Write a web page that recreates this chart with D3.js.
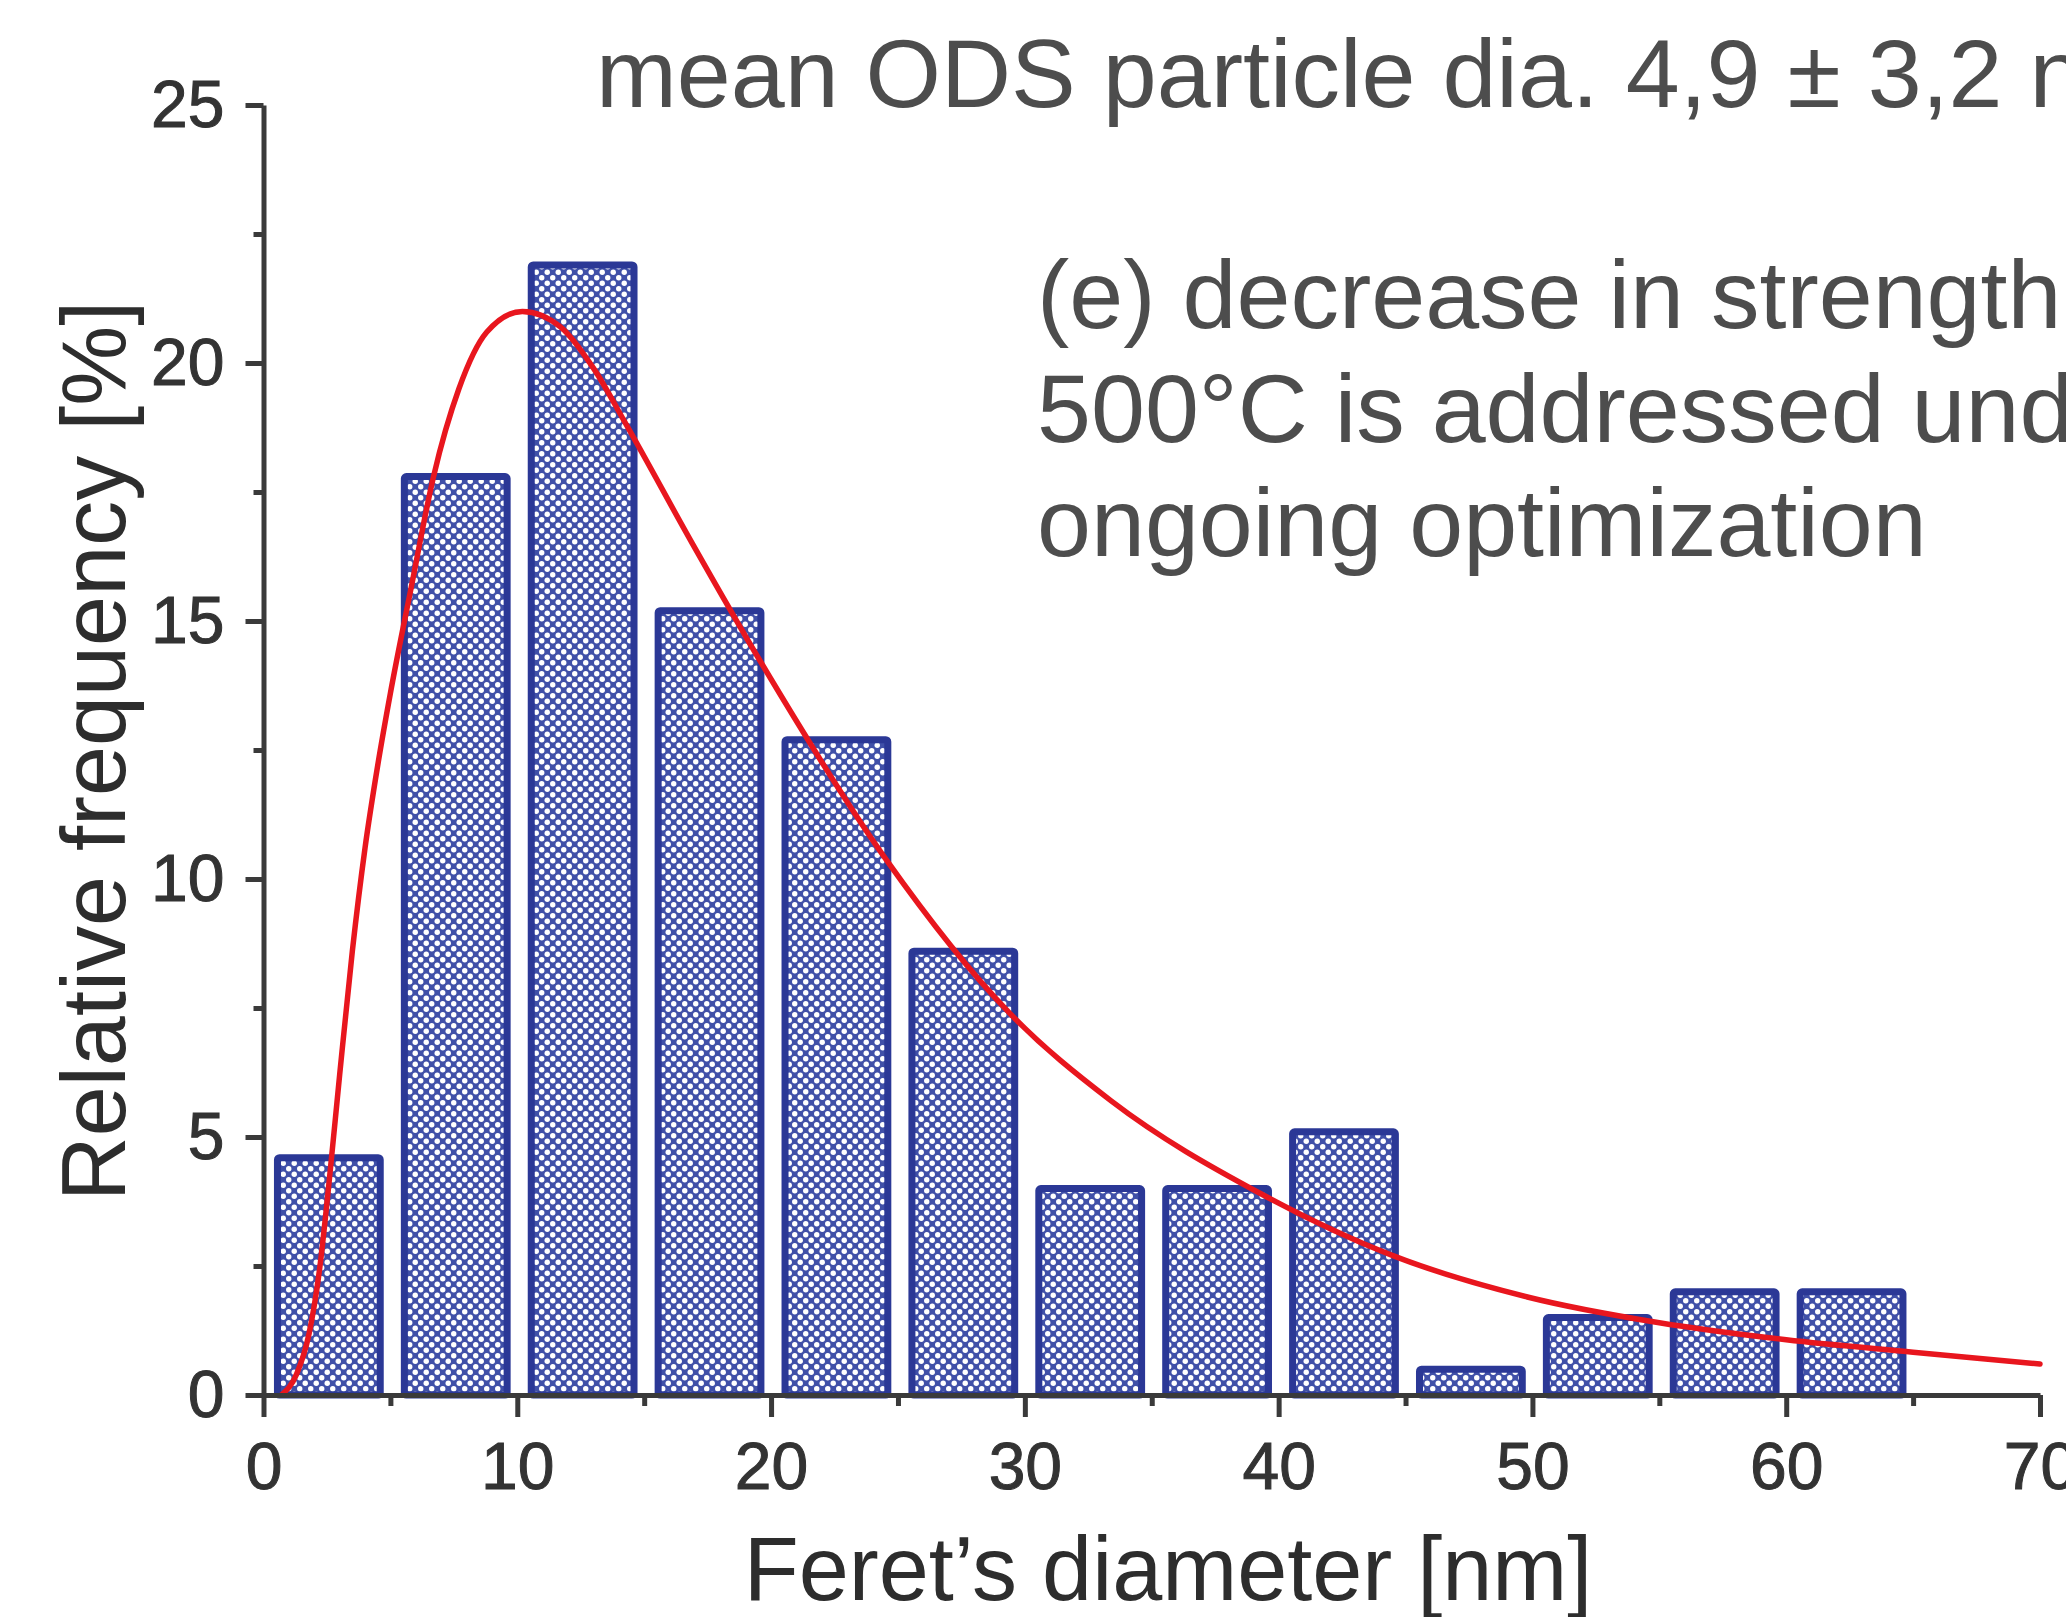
<!DOCTYPE html>
<meta charset="utf-8">
<script src="https://d3js.org/d3.v7.min.js"></script>
<style>
  body { margin: 0; background: #fff; }
  text { font-family: "Liberation Sans", Arial, sans-serif; }
</style>
<body>
<div id="chart"></div>
<script>
// histogram bins (start of each 5 nm bin) and relative frequency [%]
var binStarts = [0, 5, 10, 15, 20, 25, 30, 35, 40, 45, 50, 55, 60];
var binValues = [4.6, 17.8, 21.9, 15.2, 12.7, 8.6, 4.0, 4.0, 5.1, 0.5, 1.5, 2.0, 2.0];
var binWidth = 5;

// fitted curve, points
var fitX = [0.7, 1.3, 1.8, 2.2, 2.6, 3.0, 3.5, 4.0, 4.5, 5.0, 5.8, 6.7, 7.7, 8.8, 10.2, 11.7, 13.0, 14.3, 16.9, 19.6, 24.5, 29.4, 33.4, 39.3, 44.5, 49.8, 55.0, 60, 65, 70];
var fitY = [0, 0.4, 1.2, 2.4, 4.2, 6.2, 8.6, 10.6, 12.2, 13.6, 15.6, 17.8, 19.5, 20.6, 21.0, 20.7, 19.9, 18.8, 16.5, 14.2, 10.4, 7.4, 5.7, 3.9, 2.7, 1.9, 1.4, 1.07, 0.83, 0.6];

var xTicks = [0, 10, 20, 30, 40, 50, 60, 70];
var xMinor = [5, 15, 25, 35, 45, 55, 65];
var yTicks = [0, 5, 10, 15, 20, 25];
var yMinor = [2.5, 7.5, 12.5, 17.5, 22.5];

var noteTop = "mean ODS particle dia. 4,9 \u00b1 3,2 nm";
var noteLines = ["(e) decrease in strength above", "500\u00b0C is addressed under", "ongoing optimization"];

var W = 2066, H = 1617;

var svg = d3.select("#chart").append("svg")
    .attr("width", W)
    .attr("height", H)
    .style("display", "block");

svg.append("rect").attr("width", W).attr("height", H).attr("fill", "#fff");

// dotted bar fill
var pat = svg.append("defs").append("pattern")
    .attr("id", "dots")
    .attr("patternUnits", "userSpaceOnUse")
    .attr("width", 11).attr("height", 11);
pat.append("rect").attr("width", 11).attr("height", 11).attr("fill", "#4050a8");
pat.append("circle").attr("cx", 2.75).attr("cy", 2.75).attr("r", 2.7).attr("fill", "#fff");
pat.append("circle").attr("cx", 8.25).attr("cy", 8.25).attr("r", 2.7).attr("fill", "#fff");

var x = d3.scaleLinear().domain([0, 70]).range([263.5, 2040]);
var y = d3.scaleLinear().domain([0, 25]).range([1395, 105]);

var bars = binStarts.map(function(s, i) { return {start: s, value: binValues[i]}; });

svg.append("g").selectAll("rect")
  .data(bars)
  .enter().append("rect")
    .attr("x", function(d) { return x(d.start + 0.55); })
    .attr("width", function(d) { return x(d.start + binWidth - 0.4) - x(d.start + 0.55); })
    .attr("y", function(d) { return y(d.value); })
    .attr("height", function(d) { return y(0) - y(d.value); })
    .attr("rx", 2)
    .attr("fill", "url(#dots)")
    .attr("stroke", "#2b3896")
    .attr("stroke-width", 7);

var fit = fitX.map(function(v, i) { return [v, fitY[i]]; });

svg.append("path")
  .datum(fit)
    .attr("fill", "none")
    .attr("stroke", "#e8161e")
    .attr("stroke-width", 5.5)
    .attr("stroke-linecap", "round")
    .attr("d", d3.line()
      .x(function(d) { return x(d[0]); })
      .y(function(d) { return y(d[1]); })
      .curve(d3.curveMonotoneX));

// axes
function styleAxis(g) {
  g.select(".domain").attr("stroke", "#3a3a3a").attr("stroke-width", 5);
  g.selectAll(".tick line").attr("stroke", "#3a3a3a").attr("stroke-width", 5);
  g.selectAll(".tick text")
    .attr("fill", "#333")
    .attr("stroke", "#333")
    .attr("stroke-width", 1)
    .style("font-size", "66px")
    .style("font-family", "'Liberation Sans', Arial, sans-serif");
}

svg.append("g")
    .attr("transform", "translate(0," + y(0) + ")")
    .call(d3.axisBottom(x).tickValues(xMinor).tickSize(11).tickSizeOuter(0).tickFormat(""))
    .call(function(g) { styleAxis(g); g.select(".domain").remove(); });

svg.append("g")
    .attr("transform", "translate(" + x(0) + ",0)")
    .call(d3.axisLeft(y).tickValues(yMinor).tickSize(10).tickSizeOuter(0).tickFormat(""))
    .call(function(g) { styleAxis(g); g.select(".domain").remove(); });

svg.append("g")
    .attr("transform", "translate(0," + y(0) + ")")
    .call(d3.axisBottom(x).tickValues(xTicks).tickSize(22).tickSizeOuter(0).tickPadding(25))
    .call(styleAxis);

svg.append("g")
    .attr("transform", "translate(" + x(0) + ",0)")
    .call(d3.axisLeft(y).tickValues(yTicks).tickSize(18).tickSizeOuter(0).tickPadding(21))
    .call(styleAxis);

// axis titles
svg.append("text")
    .attr("x", 1168)
    .attr("y", 1600)
    .attr("text-anchor", "middle")
    .attr("fill", "#2d2d2d")
    .style("font-size", "90px")
    .text("Feret\u2019s diameter [nm]");

svg.append("text")
    .attr("transform", "translate(125,751) rotate(-90)")
    .attr("text-anchor", "middle")
    .attr("fill", "#2d2d2d")
    .style("font-size", "90px")
    .text("Relative frequency [%]");

// annotations
svg.append("text")
    .attr("x", 596)
    .attr("y", 107)
    .attr("fill", "#4d4d4d")
    .style("font-size", "97px")
    .text(noteTop);

svg.append("g").selectAll("text")
  .data(noteLines)
  .enter().append("text")
    .attr("x", 1037)
    .attr("y", function(d, i) { return 328 + i * 114; })
    .attr("fill", "#4d4d4d")
    .style("font-size", "97px")
    .text(function(d) { return d; });
</script>
</body>
